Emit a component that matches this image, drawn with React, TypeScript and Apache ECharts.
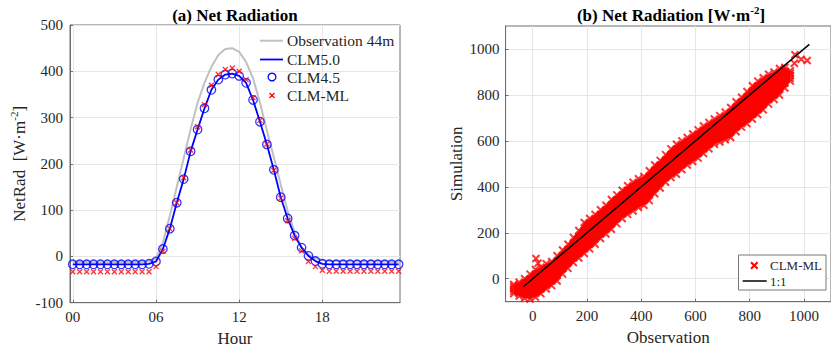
import React, { useEffect, useRef } from "react";
import * as echarts from "echarts";

// ---------- Panel (a): diurnal cycle ----------
const hours = [0, 0.5, 1, 1.5, 2, 2.5, 3, 3.5, 4, 4.5, 5, 5.5, 6, 6.5, 7, 7.5, 8, 8.5, 9, 9.5, 10, 10.5, 11, 11.5, 12, 12.5, 13, 13.5, 14, 14.5, 15, 15.5, 16, 16.5, 17, 17.5, 18, 18.5, 19, 19.5, 20, 20.5, 21, 21.5, 22, 22.5, 23, 23.5];
const obs44m = [-12, -12, -12, -13, -13, -13, -12, -12, -12, -12, -12, -11, -5, 30, 88, 150, 212, 275, 332, 375, 410, 435, 448, 450, 442, 420, 385, 332, 272, 214, 155, 98, 52, 20, 4, -4, -8, -10, -10, -10, -11, -11, -11, -11, -11, -11, -12, -12];
const clm50 = [-17, -17, -17, -17, -17, -17, -17, -17, -17, -17, -17, -16, -11, 16, 60, 116, 167, 227, 274, 320, 360, 382, 393, 395, 390, 375, 338, 291, 242, 187, 128, 82, 45, 19, 1, -10, -16, -17, -17, -17, -17, -17, -17, -17, -17, -17, -17, -17];
const clm45 = [-17, -17, -17, -17, -17, -17, -17, -17, -17, -17, -17, -16, -11, 16, 60, 116, 167, 227, 274, 320, 360, 382, 393, 395, 390, 375, 338, 291, 242, 187, 128, 82, 45, 19, 1, -10, -16, -17, -17, -17, -17, -17, -17, -17, -17, -17, -17, -17];
const clmML = [-33, -33, -33, -33, -33, -33, -33, -33, -33, -33, -33, -33, -22, 11, 60, 116, 170, 230, 280, 328, 370, 393, 404, 407, 400, 382, 343, 294, 243, 186, 126, 77, 39, 12, -11, -22, -30, -32, -32, -32, -32, -32, -32, -32, -32, -32, -32, -32];
const hourTicks = [0, 6, 12, 18];
const hourTickLabels = ["00", "06", "12", "18"];

// ---------- Panel (b): simulation vs observation ----------
// each row: [observation, simulated values read across the band, lowest ... highest]
const cloudRows = [
  [-70, -65, -55, -45, -35, -25],
  [-50, -75, -60, -42, -28, -15],
  [-30, -85, -65, -45, -22, 0],
  [-10, -88, -62, -38, -8, 20],
  [10, -80, -50, -20, 12, 40],
  [30, -65, -35, -5, 25, 50],
  [50, -45, -18, 10, 38, 65],
  [70, -30, -2, 25, 52, 75],
  [90, -10, 18, 48, 75, 100],
  [110, 20, 45, 72, 98, 125],
  [130, 45, 70, 98, 125, 150],
  [150, 70, 95, 125, 152, 180],
  [170, 90, 120, 150, 182, 210],
  [190, 110, 142, 175, 210, 245],
  [210, 130, 162, 195, 230, 262],
  [230, 150, 182, 215, 248, 280],
  [250, 175, 205, 238, 270, 300],
  [270, 195, 225, 258, 290, 320],
  [290, 215, 248, 280, 312, 345],
  [310, 240, 270, 302, 335, 365],
  [330, 262, 292, 322, 355, 385],
  [350, 280, 310, 342, 375, 405],
  [370, 295, 326, 358, 390, 420],
  [390, 310, 340, 372, 405, 435],
  [410, 320, 352, 385, 415, 445],
  [430, 340, 372, 405, 438, 470],
  [450, 370, 400, 432, 465, 495],
  [470, 395, 425, 455, 485, 515],
  [490, 420, 448, 478, 510, 540],
  [510, 440, 470, 502, 535, 565],
  [530, 455, 488, 520, 552, 585],
  [550, 475, 505, 538, 570, 600],
  [570, 495, 525, 555, 585, 615],
  [590, 510, 540, 570, 600, 630],
  [610, 525, 555, 588, 618, 648],
  [630, 545, 575, 605, 635, 665],
  [650, 565, 592, 622, 652, 680],
  [670, 585, 610, 640, 668, 695],
  [690, 595, 622, 652, 682, 710],
  [710, 605, 635, 665, 695, 725],
  [730, 615, 648, 680, 712, 745],
  [750, 640, 672, 705, 738, 770],
  [770, 660, 692, 725, 758, 790],
  [790, 675, 710, 745, 780, 815],
  [810, 695, 730, 765, 802, 840],
  [830, 715, 750, 786, 822, 860],
  [850, 735, 770, 805, 840, 875],
  [870, 760, 792, 825, 858, 890],
  [890, 780, 810, 842, 872, 900],
  [910, 800, 828, 858, 888, 915],
  [930, 830, 852, 875, 898, 920],
  [950, 860, 872, 885, 895, 905],
];
const outlierObs = [12, 20, 967, 965, 1012, 990];
const outlierSim = [88, 68, 975, 938, 950, 955];
const oneToOneRange = [-35, 1020];
const scatterTicks = [0, 200, 400, 600, 800, 1000];

const FONT = '"Liberation Serif", "Times New Roman", serif';
const TXT = "#262626";
const AXIS = "#6e6e6e";
const GRIDC = "#e6e6e6";
const XPATH = "path://M0,0L10,10M10,0L0,10";

function axisCommon() {
  return {
    axisLine: { show: true, onZero: false, lineStyle: { color: AXIS, width: 1 } },
    axisTick: { show: true, inside: true, length: 3, lineStyle: { color: AXIS } },
    splitLine: { show: true, lineStyle: { color: GRIDC, width: 1 } },
    axisLabel: { color: TXT, fontFamily: FONT, fontSize: 15 },
    nameTextStyle: { color: TXT, fontFamily: FONT, fontSize: 17 },
  };
}

export default function App() {
  const ref = useRef<HTMLDivElement>(null);
  useEffect(() => {
    document.body.style.margin = "0";
    if (!ref.current) return;
    const chart = echarts.init(ref.current, undefined, { renderer: "svg" });

    const supRich = {
      t: { fontSize: 17, fontFamily: FONT, color: TXT, lineHeight: 22 },
      s: { fontSize: 11, fontFamily: FONT, color: TXT, verticalAlign: "top", lineHeight: 12 },
    };
    const titleRich = {
      t: { fontSize: 17, fontFamily: FONT, fontWeight: "bold", color: "#000", lineHeight: 22 },
      s: { fontSize: 11, fontFamily: FONT, fontWeight: "bold", color: "#000", verticalAlign: "top", lineHeight: 12 },
    };

    const cloud: number[][] = [];
    cloudRows.forEach((row) => {
      row.slice(1).forEach((s) => cloud.push([row[0], s]));
    });
    outlierObs.forEach((o, i) => cloud.push([o, outlierSim[i]]));

    const c = axisCommon();
    const legendText = (x: number, y: number, text: string, size: number) => ({
      type: "text",
      x,
      y,
      z: 100,
      style: { text, fill: TXT, font: `${size}px ${FONT}`, align: "left", verticalAlign: "middle", textAlign: "left", textVerticalAlign: "middle" },
    });
    const xMark = (cx: number, cy: number, h: number, w: number) => [
      { type: "line", z: 100, shape: { x1: cx - h, y1: cy - h, x2: cx + h, y2: cy + h }, style: { stroke: "#ff0000", lineWidth: w } },
      { type: "line", z: 100, shape: { x1: cx + h, y1: cy - h, x2: cx - h, y2: cy + h }, style: { stroke: "#ff0000", lineWidth: w } },
    ];
    const plain = (v: number) => String(v);

    chart.setOption({
      animation: false,
      backgroundColor: "#ffffff",
      grid: [
        { left: 70, top: 25, right: 431, bottom: 49.3, show: true, borderColor: AXIS, borderWidth: 1, containLabel: false },
        { left: 505.6, top: 26, right: -6.7, bottom: 50.3, show: true, borderColor: AXIS, borderWidth: 1, containLabel: false },
      ],
      xAxis: [
        {
          gridIndex: 0,
          type: "value",
          min: -0.2,
          max: 23.6,
          ...c,
          axisTick: { ...c.axisTick, customValues: hourTicks },
          axisLabel: {
            ...c.axisLabel,
            margin: 7,
            customValues: hourTicks,
            formatter: (v: number) => hourTickLabels[hourTicks.indexOf(v)] ?? "",
          },
          name: "Hour",
          nameLocation: "middle",
          nameGap: 26,
        },
        {
          gridIndex: 1,
          type: "value",
          min: -100,
          max: 1100,
          ...c,
          axisTick: { ...c.axisTick, customValues: scatterTicks },
          axisLabel: { ...c.axisLabel, margin: 7, customValues: scatterTicks, formatter: plain },
          name: "Observation",
          nameLocation: "middle",
          nameGap: 26,
        },
      ],
      yAxis: [
        {
          gridIndex: 0,
          type: "value",
          min: -100,
          max: 500,
          interval: 100,
          ...c,
          axisLabel: { ...c.axisLabel, margin: 7, formatter: plain },
          name: "{t|NetRad  [W·m}{s|-2}{t|]}",
          nameLocation: "middle",
          nameGap: 40,
          nameTextStyle: { ...c.nameTextStyle, rich: supRich },
        },
        {
          gridIndex: 1,
          type: "value",
          min: -100,
          max: 1100,
          ...c,
          axisTick: { ...c.axisTick, customValues: scatterTicks },
          axisLabel: { ...c.axisLabel, margin: 6, customValues: scatterTicks, formatter: plain },
          name: "Simulation",
          nameLocation: "middle",
          nameGap: 41,
        },
      ],
      series: [
        {
          name: "Observation 44m",
          type: "line",
          xAxisIndex: 0,
          yAxisIndex: 0,
          data: hours.map((h, i) => [h, obs44m[i]]),
          showSymbol: false,
          symbol: "none",
          lineStyle: { color: "#c0c0c0", width: 2 },
          z: 1,
        },
        {
          name: "CLM5.0",
          type: "line",
          xAxisIndex: 0,
          yAxisIndex: 0,
          data: hours.map((h, i) => [h, clm50[i]]),
          showSymbol: false,
          symbol: "none",
          lineStyle: { color: "#0000ff", width: 1.8 },
          z: 2,
        },
        {
          name: "CLM4.5",
          type: "scatter",
          xAxisIndex: 0,
          yAxisIndex: 0,
          data: hours.map((h, i) => [h, clm45[i]]),
          symbol: "circle",
          symbolSize: 8.5,
          itemStyle: { color: "rgba(0,0,0,0)", borderColor: "#0000ff", borderWidth: 1.3 },
          clip: false,
          z: 3,
        },
        {
          name: "CLM-ML",
          type: "scatter",
          xAxisIndex: 0,
          yAxisIndex: 0,
          data: hours.map((h, i) => [h, clmML[i]]),
          symbol: XPATH,
          symbolSize: 5,
          itemStyle: { color: "#ff0000", borderColor: "#ff0000", borderWidth: 1.3 },
          clip: false,
          z: 4,
        },
        {
          // dense core of the point cloud, bounded by the lowest/highest values of each row
          name: "CLM-ML core",
          type: "custom",
          xAxisIndex: 1,
          yAxisIndex: 1,
          data: [0],
          silent: true,
          renderItem: (_params: any, api: any) => {
            const upper = cloudRows.map((r) => api.coord([r[0], r[r.length - 1]]));
            const lower = cloudRows.map((r) => api.coord([r[0], r[1]])).reverse();
            return { type: "polygon", shape: { points: upper.concat(lower) }, style: { fill: "#ff0000" } };
          },
          z: 2,
        },
        {
          name: "CLM-ML",
          type: "scatter",
          xAxisIndex: 1,
          yAxisIndex: 1,
          data: cloud,
          symbol: XPATH,
          symbolSize: 7,
          itemStyle: { color: "#ff0000", borderColor: "#ff0000", borderWidth: 2 },
          z: 3,
        },
        {
          name: "1:1",
          type: "line",
          xAxisIndex: 1,
          yAxisIndex: 1,
          data: oneToOneRange.map((v) => [v, v]),
          showSymbol: false,
          symbol: "none",
          lineStyle: { color: "#000000", width: 1.5 },
          z: 5,
        },
      ],
      graphic: [
        {
          type: "text",
          x: 235,
          y: 15,
          z: 100,
          style: { text: "(a) Net Radiation", fill: "#000", font: `bold 17px ${FONT}`, align: "center", verticalAlign: "middle", textAlign: "center", textVerticalAlign: "middle" },
        },
        {
          type: "text",
          x: 671,
          y: 15,
          z: 100,
          style: { text: "{t|(b) Net Radiation [W·m}{s|-2}{t|]}", rich: titleRich, align: "center", verticalAlign: "middle", textAlign: "center", textVerticalAlign: "middle" },
        },
        // legend (a)
        { type: "line", z: 100, shape: { x1: 260, y1: 40.7, x2: 283, y2: 40.7 }, style: { stroke: "#c0c0c0", lineWidth: 2 } },
        legendText(287, 40.7, "Observation 44m", 15.5),
        { type: "line", z: 100, shape: { x1: 260, y1: 59.5, x2: 283, y2: 59.5 }, style: { stroke: "#0000ff", lineWidth: 1.8 } },
        legendText(287, 59.5, "CLM5.0", 15.5),
        { type: "circle", z: 100, shape: { cx: 272, cy: 77, r: 3.9 }, style: { fill: "none", stroke: "#0000ff", lineWidth: 1.3 } },
        legendText(287, 77, "CLM4.5", 15.5),
        ...xMark(272, 95.5, 2.5, 1.3),
        legendText(287, 95.5, "CLM-ML", 15.5),
        // legend (b)
        { type: "rect", z: 99, shape: { x: 738.5, y: 255, width: 87.5, height: 35 }, style: { fill: "#ffffff", stroke: "#555", lineWidth: 0.8 } },
        ...xMark(754.3, 265.5, 3.3, 2),
        legendText(770, 265.5, "CLM-ML", 13),
        { type: "line", z: 100, shape: { x1: 742.7, y1: 281, x2: 766.7, y2: 281 }, style: { stroke: "#000", lineWidth: 1.5 } },
        legendText(770, 281, "1:1", 13),
      ],
    });
    return () => chart.dispose();
  }, []);
  return <div ref={ref} style={{ width: 831, height: 352 }} />;
}
